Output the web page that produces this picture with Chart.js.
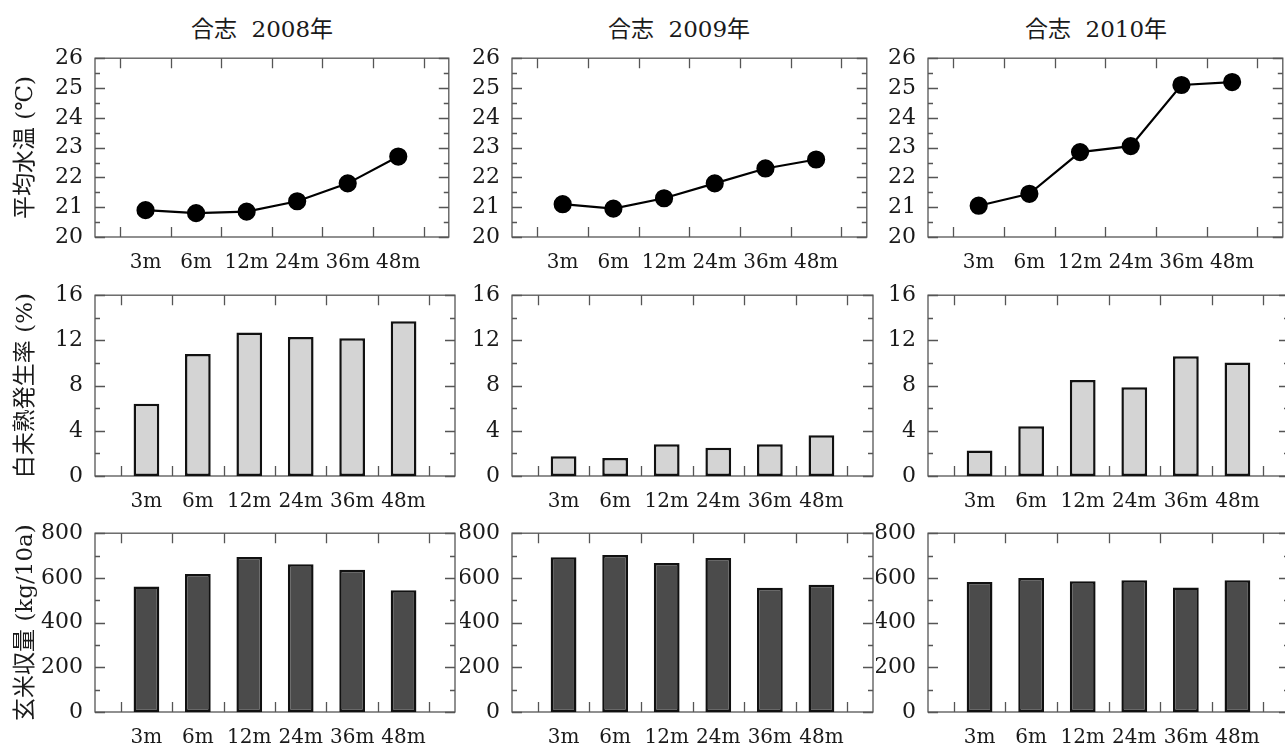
<!DOCTYPE html>
<html>
<head>
<meta charset="utf-8">
<script src="https://cdn.jsdelivr.net/npm/chart.js@4.4.1/dist/chart.umd.min.js"></script>
<style>
  body { margin: 0; background: #fff; width: 1285px; height: 748px; overflow: hidden; position: relative; }
  canvas { position: absolute; }
  .title { position: absolute; width: 300px; text-align: center; white-space: pre;
           font: 23px/30px "DejaVu Serif", "Noto Sans CJK JP"; color: #1a1a1a; }
</style>
</head>
<body>
<script>
// --- data ---
const categories = ['3m', '6m', '12m', '24m', '36m', '48m'];
const years = ['2008', '2009', '2010'];

const temp2008 = [20.9, 20.8, 20.85, 21.2, 21.8, 22.7];
const temp2009 = [21.1, 20.95, 21.3, 21.8, 22.3, 22.6];
const temp2010 = [21.05, 21.45, 22.85, 23.05, 25.1, 25.2];

const chalky2008 = [6.4, 10.8, 12.7, 12.3, 12.2, 13.7];
const chalky2009 = [1.75, 1.6, 2.8, 2.5, 2.8, 3.6];
const chalky2010 = [2.25, 4.4, 8.5, 7.85, 10.6, 10.05];

const yield2008 = [562, 618, 693, 661, 636, 545];
const yield2009 = [692, 702, 667, 689, 556, 569];
const yield2010 = [582, 600, 585, 590, 557, 590];

const tempTicks = [20, 21, 22, 23, 24, 25, 26];
const chalkyTicks = [0, 4, 8, 12, 16];
const yieldTicks = [0, 200, 400, 600, 800];

// --- layout (plot area edges in page pixels) ---
const plotCols = [[95, 455], [512, 873], [928, 1289]];
const plotRows = [[57, 237], [294, 476], [532, 712]];
const titleCenters = [262, 679, 1096];

const rows = [
  { type: 'line', series: [temp2008, temp2009, temp2010], ticks: tempTicks, label: '平均水温 (℃)' },
  { type: 'bar', series: [chalky2008, chalky2009, chalky2010], ticks: chalkyTicks, label: '白未熟発生率 (%)', fill: '#d4d4d4' },
  { type: 'bar', series: [yield2008, yield2009, yield2010], ticks: yieldTicks, label: '玄米収量 (kg/10a)', fill: '#4b4b4b' }
];

const SERIF = '"DejaVu Serif", "Noto Sans CJK JP"';

// box with inward tick marks on all four sides
const framePlugin = {
  id: 'frame',
  beforeDatasetsDraw(chart, args, opts) {
    const { ctx, chartArea: a, scales: { x, y } } = chart;
    ctx.save();
    ctx.strokeStyle = '#555';
    ctx.lineWidth = 1.3;
    ctx.strokeRect(a.left, a.top, a.right - a.left, a.bottom - a.top);
    ctx.beginPath();
    for (let i = 0; i <= categories.length; i++) {
      const px = Math.round(x.getPixelForValue(i + 0.5)) + 0.5;
      ctx.moveTo(px, a.bottom); ctx.lineTo(px, a.bottom - 10);
      ctx.moveTo(px, a.top); ctx.lineTo(px, a.top + 10);
    }
    const t = opts.ticks;
    t.forEach((v, i) => {
      const py = Math.round(y.getPixelForValue(v)) + 0.5;
      ctx.moveTo(a.left, py); ctx.lineTo(a.left + 10, py);
      ctx.moveTo(a.right, py); ctx.lineTo(a.right - 10, py);
      if (i > 0) {
        const my = Math.round(y.getPixelForValue((v + t[i - 1]) / 2)) + 0.5;
        ctx.moveTo(a.left, my); ctx.lineTo(a.left + 5, my);
        ctx.moveTo(a.right, my); ctx.lineTo(a.right - 5, my);
      }
    });
    ctx.stroke();
    ctx.restore();
  }
};

years.forEach((yr, c) => {
  const d = document.createElement('div');
  d.className = 'title';
  d.textContent = '合志  ' + yr + '年';
  d.style.left = (titleCenters[c] - 150) + 'px';
  d.style.top = '14px';
  document.body.appendChild(d);
});

rows.forEach((row, r) => {
  row.series.forEach((values, c) => {
    const [pl, pr] = plotCols[c];
    const [pt, pb] = plotRows[r];
    const left = c === 0 ? 0 : pl - 52;
    const top = pt - 16;
    const axisW = pl - left;
    const axisH = 40;

    const canvas = document.createElement('canvas');
    canvas.width = pr + 4 - left;
    canvas.height = pb + axisH - top;
    canvas.style.left = left + 'px';
    canvas.style.top = top + 'px';
    document.body.appendChild(canvas);

    const points = values.map((v, i) => ({ x: i + 1, y: v }));
    const dataset = row.type === 'line'
      ? { data: points, borderColor: '#000', borderWidth: 2.2, pointRadius: 8,
          pointBackgroundColor: '#000', pointBorderColor: '#000', tension: 0 }
      : { data: points, backgroundColor: row.fill, borderColor: '#111', borderWidth: 2.5,
          borderSkipped: false, barPercentage: 0.5, categoryPercentage: 1 };

    new Chart(canvas, {
      type: row.type,
      data: { datasets: [dataset] },
      options: {
        responsive: false,
        animation: false,
        layout: { padding: { top: 16, right: 4, left: 0, bottom: 0 } },
        plugins: {
          legend: { display: false },
          tooltip: { enabled: false },
          frame: { ticks: row.ticks }
        },
        scales: {
          x: {
            type: 'linear', min: 0, max: categories.length + 1, offset: false,
            grid: { display: false, offset: false }, border: { display: false },
            afterBuildTicks: s => { s.ticks = categories.map((_, i) => ({ value: i + 1 })); },
            afterFit: s => { s.height = axisH; },
            ticks: {
              callback: v => categories[v - 1],
              color: '#1a1a1a', padding: 6, maxRotation: 0, autoSkip: false,
              font: { family: SERIF, size: 20 }
            }
          },
          y: {
            min: row.ticks[0], max: row.ticks[row.ticks.length - 1],
            grid: { display: false }, border: { display: false },
            afterBuildTicks: s => { s.ticks = row.ticks.map(v => ({ value: v })); },
            afterFit: s => { s.width = axisW; },
            ticks: { color: '#1a1a1a', padding: 4, font: { family: SERIF, size: 22 } },
            title: {
              display: c === 0, text: row.label, color: '#1a1a1a',
              font: { family: SERIF, size: 23 }, padding: { top: 12, bottom: 0 }
            }
          }
        }
      },
      plugins: [framePlugin]
    });
  });
});
</script>
</body>
</html>
